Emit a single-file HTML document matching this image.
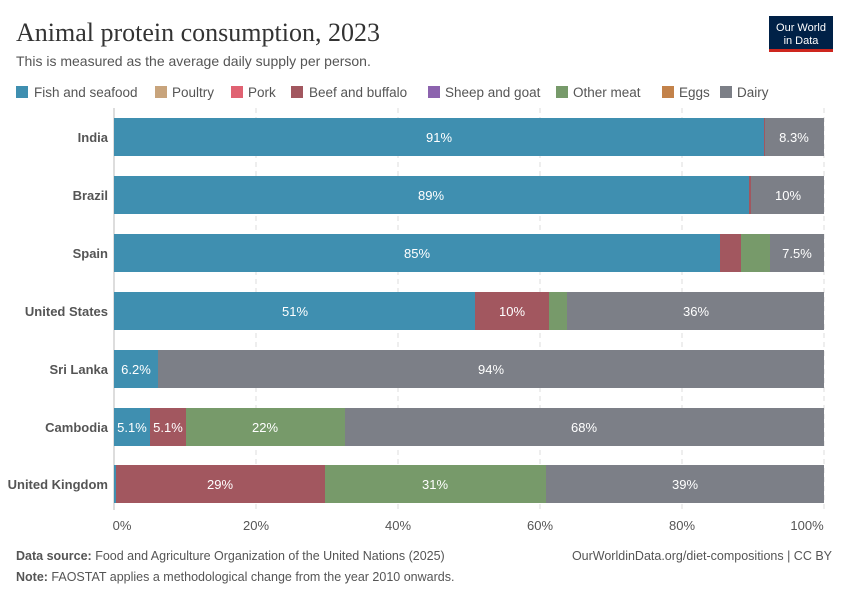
<!DOCTYPE html>
<html><head><meta charset="utf-8"><style>
body{margin:0;background:#fff;}
</style></head><body>
<svg width="850" height="600" xmlns="http://www.w3.org/2000/svg" font-family="Liberation Sans, sans-serif">
<rect width="850" height="600" fill="#fff"/>
<text x="16" y="41" style="font-family:'Liberation Serif',serif" font-size="26" fill="#333">Animal protein consumption, 2023</text>
<text x="16" y="66" font-size="14" fill="#555">This is measured as the average daily supply per person.</text>
<rect x="769" y="16" width="64" height="34" fill="#002147"/>
<rect x="769" y="49" width="64" height="3" fill="#ce261e"/>
<text x="801" y="31" font-size="11" fill="#fff" text-anchor="middle">Our World</text>
<text x="801" y="44" font-size="11" fill="#fff" text-anchor="middle">in Data</text>
<g font-size="13.5" fill="#555">
<rect x="16" y="86" width="12" height="12" fill="#3f8fb0"/><text x="34" y="97">Fish and seafood</text>
<rect x="155" y="86" width="12" height="12" fill="#c8a47c"/><text x="172" y="97">Poultry</text>
<rect x="231" y="86" width="12" height="12" fill="#e06272"/><text x="248" y="97">Pork</text>
<rect x="291" y="86" width="12" height="12" fill="#a2575f"/><text x="309" y="97">Beef and buffalo</text>
<rect x="428" y="86" width="12" height="12" fill="#8c63ae"/><text x="445" y="97">Sheep and goat</text>
<rect x="556" y="86" width="12" height="12" fill="#779a6a"/><text x="573" y="97">Other meat</text>
<rect x="662" y="86" width="12" height="12" fill="#c3824a"/><text x="679" y="97">Eggs</text>
<rect x="720" y="86" width="12" height="12" fill="#7c7f87"/><text x="737" y="97">Dairy</text>
</g>
<g stroke="#ddd" stroke-dasharray="5,4">
<line x1="256" y1="108" x2="256" y2="510"/><line x1="398" y1="108" x2="398" y2="510"/>
<line x1="540" y1="108" x2="540" y2="510"/><line x1="682" y1="108" x2="682" y2="510"/>
<line x1="824" y1="108" x2="824" y2="510"/>
</g>
<line x1="114" y1="108" x2="114" y2="510" stroke="#bbb"/>
<g font-size="13" fill="#555" text-anchor="middle">
<text x="122" y="530">0%</text><text x="256" y="530">20%</text><text x="398" y="530">40%</text><text x="540" y="530">60%</text><text x="682" y="530">80%</text><text x="807" y="530">100%</text>
</g>
<g font-size="13" font-weight="bold" fill="#555" text-anchor="end">
<text x="108" y="142">India</text><text x="108" y="200">Brazil</text><text x="108" y="258">Spain</text>
<text x="108" y="316">United States</text><text x="108" y="374">Sri Lanka</text><text x="108" y="432">Cambodia</text><text x="108" y="489">United Kingdom</text>
</g>
<g>
<rect x="114" y="118" width="650" height="38" fill="#3f8fb0"/><rect x="764" y="118" width="1" height="38" fill="#a2575f"/><rect x="765" y="118" width="59" height="38" fill="#7c7f87"/>
<rect x="114" y="176" width="635" height="38" fill="#3f8fb0"/><rect x="749" y="176" width="2" height="38" fill="#a2575f"/><rect x="751" y="176" width="73" height="38" fill="#7c7f87"/>
<rect x="114" y="234" width="606" height="38" fill="#3f8fb0"/><rect x="720" y="234" width="21" height="38" fill="#a2575f"/><rect x="741" y="234" width="29" height="38" fill="#779a6a"/><rect x="770" y="234" width="54" height="38" fill="#7c7f87"/>
<rect x="114" y="292" width="361" height="38" fill="#3f8fb0"/><rect x="475" y="292" width="74" height="38" fill="#a2575f"/><rect x="549" y="292" width="18" height="38" fill="#779a6a"/><rect x="567" y="292" width="257" height="38" fill="#7c7f87"/>
<rect x="114" y="350" width="44" height="38" fill="#3f8fb0"/><rect x="158" y="350" width="666" height="38" fill="#7c7f87"/>
<rect x="114" y="408" width="36" height="38" fill="#3f8fb0"/><rect x="150" y="408" width="36" height="38" fill="#a2575f"/><rect x="186" y="408" width="159" height="38" fill="#779a6a"/><rect x="345" y="408" width="479" height="38" fill="#7c7f87"/>
<rect x="114" y="465" width="2" height="38" fill="#3f8fb0"/><rect x="116" y="465" width="209" height="38" fill="#a2575f"/><rect x="325" y="465" width="221" height="38" fill="#779a6a"/><rect x="546" y="465" width="278" height="38" fill="#7c7f87"/>
</g>
<g font-size="13" fill="#fff" text-anchor="middle">
<text x="439" y="142">91%</text><text x="794" y="142">8.3%</text>
<text x="431" y="200">89%</text><text x="788" y="200">10%</text>
<text x="417" y="258">85%</text><text x="797" y="258">7.5%</text>
<text x="295" y="316">51%</text><text x="512" y="316">10%</text><text x="696" y="316">36%</text>
<text x="136" y="374">6.2%</text><text x="491" y="374">94%</text>
<text x="132" y="432">5.1%</text><text x="168" y="432">5.1%</text><text x="265" y="432">22%</text><text x="584" y="432">68%</text>
<text x="220" y="489">29%</text><text x="435" y="489">31%</text><text x="685" y="489">39%</text>
</g>
<text x="16" y="560" font-size="12.5" fill="#555"><tspan font-weight="bold">Data source:</tspan> Food and Agriculture Organization of the United Nations (2025)</text>
<text x="16" y="581" font-size="12.5" fill="#555"><tspan font-weight="bold">Note:</tspan> FAOSTAT applies a methodological change from the year 2010 onwards.</text>
<text x="832" y="560" font-size="12.5" fill="#555" text-anchor="end">OurWorldinData.org/diet-compositions | CC BY</text>
</svg>
</body></html>
